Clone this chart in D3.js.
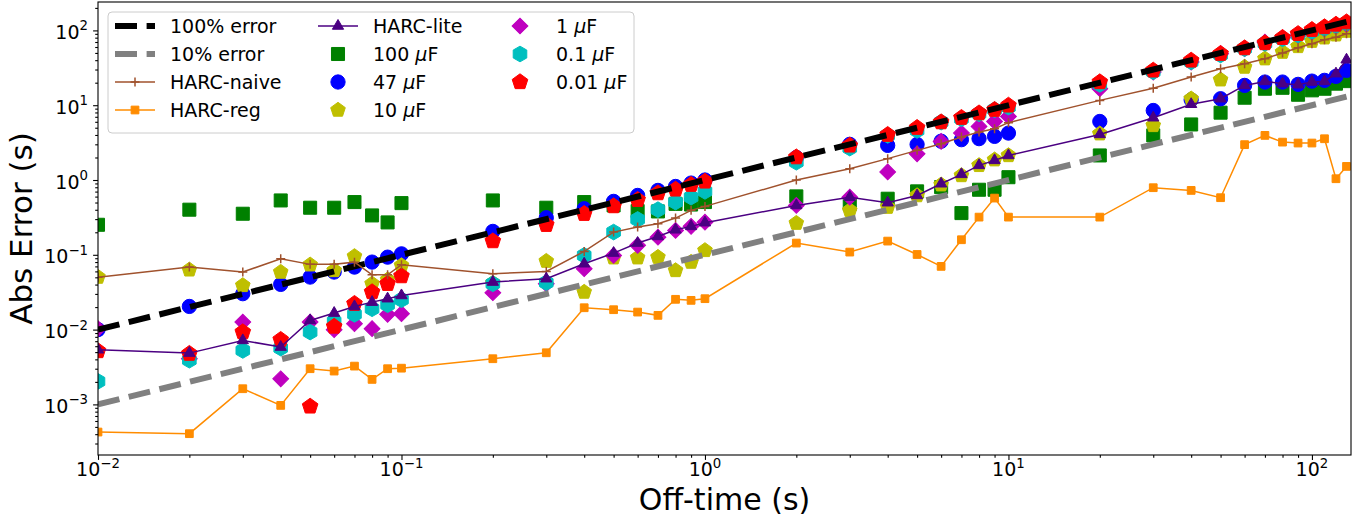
<!DOCTYPE html>
<html>
<head>
<meta charset="utf-8">
<script src="https://cdn.jsdelivr.net/npm/d3@7"></script>
<style>
  body { margin: 0; background: #fff; }
  text { font-family: "DejaVu Sans", sans-serif; fill: #000; }
</style>
</head>
<body>
<script>
// off-time values (s), shared by every series
var offTime = [0.01, 0.02, 0.03, 0.04, 0.05, 0.06, 0.07, 0.08, 0.09, 0.1,
  0.2, 0.3, 0.4, 0.5, 0.6, 0.7, 0.8, 0.9, 1,
  2, 3, 4, 5, 6, 7, 8, 9, 10,
  20, 30, 40, 50, 60, 70, 80, 90, 100,
  110, 120, 130];

// reference lines
var refX = [0.01, 130];
var err100 = [0.01, 130];
var err10 = [0.001, 13];

var harcNaive = [0.050, 0.0685, 0.0588, 0.0887, 0.0745, 0.0745, 0.0798, 0.054, 0.054, 0.0736,
  0.0558, 0.060, 0.111, 0.201, 0.235, 0.26, 0.31, 0.393, 0.444,
  1.0, 1.415, 1.93, 2.49, 3.05, 3.75, 4.37, 4.85, 5.84,
  11.6, 16.9, 23.8, 30.8, 35.9, 41.9, 49.8, 58.7, 66.4,
  75, 81, 90];
var harcReg = [4.27e-4, 4.06e-4, 1.62e-3, 9.7e-4, 3.0e-3, 2.79e-3, 3.25e-3, 2.16e-3, 3.0e-3, 3.05e-3,
  4.08e-3, 4.9e-3, 0.0196, 0.01845, 0.01715, 0.0155, 0.0254, 0.0246, 0.0259,
  0.1435, 0.1087, 0.1525, 0.101, 0.070, 0.159, 0.319, 0.573, 0.319,
  0.319, 0.789, 0.726, 0.58, 2.97, 3.95, 3.21, 3.12, 3.12,
  3.56, 1.04, 1.52];
var harcLite = [5.38e-3, 4.85e-3, 7.17e-3, 5.84e-3, 0.01327, 0.01663, 0.0204, 0.0233, 0.0259, 0.0286,
  0.0432, 0.0479, 0.0759, 0.1054, 0.1435, 0.176, 0.216, 0.24, 0.269,
  0.457, 0.59, 0.497, 0.622, 0.891, 1.19, 1.57, 1.83, 2.13,
  4.07, 6.8, 10.3, 12.2, 18.4, 20.8, 19.4, 18.8, 20.4,
  20.8, 26.4, 40.5];

var cap100 = [0.252, 0.401, 0.354, 0.533, 0.426, 0.426, 0.507, 0.336, 0.271, 0.491,
  0.533, 0.426, 0.507, 0.457, 0.384, 0.38, 0.48, 0.47, 0.507,
  0.604, 0.48, 0.562, 0.705, 0.804, 0.361, 0.741, 0.741, 1.09,
  2.13, 3.95, 5.53, 7.95, 12.6, 16.6, 17.1, 13.8, 15.8,
  16.6, 19.4, 21];
var cap47 = [0.0100, 0.0204, 0.0302, 0.0402, 0.0504, 0.0588, 0.0685, 0.0799, 0.093, 0.103,
  0.2056, 0.313, 0.413, 0.518, 0.622, 0.726, 0.82, 0.91, 1.0,
  2.0, 3.0, 2.9, 2.99, 3.3, 3.46, 3.57, 3.83, 4.24,
  6.06, 8.5, 11.8, 12.2, 18.4, 20.4, 20.4, 19.0, 21.0,
  21.5, 24.3, 29.2];
var cap10 = [0.0504, 0.063, 0.039, 0.0588, 0.0736, 0.0618, 0.0955, 0.041, 0.0465, 0.0721,
  0.042, 0.0824, 0.0318, 0.0914, 0.0914, 0.093, 0.0618, 0.08, 0.1146,
  0.265, 0.393, 0.434, 0.62, 0.865, 1.15, 1.57, 1.87, 2.13,
  4.16, 5.37, 12.2, 21.9, 32.4, 41.9, 51.3, 61.1, 71.9,
  79.8, 87.5, 98];
var cap1 = [0.0103, 4.08e-3, 0.0126, 2.2e-3, 0.0126, 0.00998, 0.012, 0.0103, 0.016, 0.0163,
  0.0311, 0.041, 0.0651, 0.098, 0.134, 0.172, 0.212, 0.24, 0.273,
  0.457, 0.59, 1.28, 2.24, 3.28, 4.24, 5.21, 6.06, 7.08,
  16.6, 27.7, 37.7, 48.8, 56.9, 69.8, 79.8, 85.8, 94.9,
  105, 113, 120];
var cap01 = [2.03e-3, 3.9e-3, 5.27e-3, 5.66e-3, 9.27e-3, 0.0129, 0.016, 0.019, 0.0215, 0.0251,
  0.041, 0.0424, 0.098, 0.2014, 0.297, 0.401, 0.507, 0.59, 0.705,
  1.73, 2.67, 3.95, 4.6, 5.94, 6.59, 7.69, 8.7, 9.44,
  19, 28, 38, 47, 57, 67, 77, 87, 97,
  106, 116, 125];
var cap001 = [5.17e-3, 4.77e-3, 9.27e-3, 7.33e-3, 9.4e-4, 0.011, 0.0222, 0.0318, 0.041, 0.0519,
  0.1525, 0.252, 0.354, 0.448, 0.544, 0.668, 0.748, 0.865, 0.957,
  2.02, 2.9, 4.03, 5.0, 5.94, 6.8, 7.83, 8.7, 9.93,
  20.4, 29.2, 39.7, 48.8, 58, 67.8, 79.8, 90, 102,
  111, 120, 129];

var xTicks = [0.01, 0.1, 1, 10, 100];
var xTickExp = ["\u22122", "\u22121", "0", "1", "2"];
var yTicks = [1e-3, 1e-2, 1e-1, 1, 10, 100];
var yTickExp = ["\u22123", "\u22122", "\u22121", "0", "1", "2"];

var W = 1369, H = 520;
var m = {left: 98, top: 2, right: 1351, bottom: 455};

var x = d3.scaleLog().domain([0.01, 134.5]).range([m.left, m.right]);
var y = d3.scaleLog().domain([2.106e-4, 239.8]).range([m.bottom, m.top]);

var svg = d3.select("body").append("svg").attr("width", W).attr("height", H);

svg.append("clipPath").attr("id", "plotclip").append("rect")
  .attr("x", m.left).attr("y", m.top)
  .attr("width", m.right - m.left).attr("height", m.bottom - m.top);

// polygon marker with n sides, pointing up
function polygon(n, rot) {
  return {
    draw: function(ctx, size) {
      var r = Math.sqrt(size / (n / 2 * Math.sin(2 * Math.PI / n)));
      for (var i = 0; i < n; i++) {
        var a = (rot || 0) + i * 2 * Math.PI / n;
        var px = r * Math.sin(a), py = -r * Math.cos(a);
        if (i) ctx.lineTo(px, py); else ctx.moveTo(px, py);
      }
      ctx.closePath();
    }
  };
}

var scatterSeries = [
  {name: "100 ", vals: cap100, color: "#008000", sym: d3.symbolSquare, size: 170, rot: 0},
  {name: "47 ", vals: cap47, color: "#0000ff", sym: d3.symbolCircle, size: 160, rot: 0},
  {name: "10 ", vals: cap10, color: "#bfbf00", sym: polygon(5), size: 140, rot: 0},
  {name: "1 ", vals: cap1, color: "#bf00bf", sym: d3.symbolSquare, size: 125, rot: 45},
  {name: "0.1 ", vals: cap01, color: "#00bfbf", sym: polygon(6), size: 160, rot: 0},
  {name: "0.01 ", vals: cap001, color: "#ff0000", sym: polygon(5), size: 160, rot: 0}
];

var plot = svg.append("g").attr("clip-path", "url(#plotclip)");

scatterSeries.forEach(function(s) {
  plot.append("g").selectAll("path")
    .data(s.vals)
    .enter()
    .append("path")
      .attr("d", d3.symbol().type(s.sym).size(s.size))
      .attr("transform", function(d, i) {
        return "translate(" + x(offTime[i]) + "," + y(d) + ") rotate(" + s.rot + ")";
      })
      .attr("fill", s.color)
      .attr("stroke", s.color)
      .attr("stroke-width", 1);
});

// reference lines
var refLine = d3.line().x(function(d, i) { return x(refX[i]); }).y(function(d) { return y(d); });
plot.append("path").attr("d", refLine(err100)).attr("fill", "none")
  .attr("stroke", "#000").attr("stroke-width", 6).attr("stroke-dasharray", "22,9.6");
plot.append("path").attr("d", refLine(err10)).attr("fill", "none")
  .attr("stroke", "#808080").attr("stroke-width", 6).attr("stroke-dasharray", "22,9.6");

var plusPath = "M-4.5,0H4.5M0,-4.5V4.5";
var lineSeries = [
  {name: "HARC-naive", vals: harcNaive, color: "#a0522d", marker: "plus"},
  {name: "HARC-reg", vals: harcReg, color: "#ff8c00", marker: "square"},
  {name: "HARC-lite", vals: harcLite, color: "#4b0082", marker: "triangle"}
];

function markerPath(kind) {
  if (kind === "plus") return plusPath;
  if (kind === "square") return d3.symbol().type(d3.symbolSquare).size(60)();
  return d3.symbol().type(d3.symbolTriangle).size(55)();
}

var dataLine = d3.line().x(function(d, i) { return x(offTime[i]); }).y(function(d) { return y(d); });
lineSeries.forEach(function(s) {
  plot.append("path").attr("d", dataLine(s.vals)).attr("fill", "none")
    .attr("stroke", s.color).attr("stroke-width", 1.5);
  plot.append("g").selectAll("path")
    .data(s.vals)
    .enter()
    .append("path")
      .attr("d", markerPath(s.marker))
      .attr("transform", function(d, i) { return "translate(" + x(offTime[i]) + "," + y(d) + ")"; })
      .attr("fill", s.marker === "plus" ? "none" : s.color)
      .attr("stroke", s.color)
      .attr("stroke-width", s.marker === "plus" ? 1.5 : 1);
});

// axes ticks
function isMajor(v) { return Math.abs(Math.log10(v) - Math.round(Math.log10(v))) < 1e-6; }

function noDomain(g) { g.select(".domain").remove(); }

svg.append("g").attr("transform", "translate(0," + m.bottom + ")")
  .call(d3.axisBottom(x).tickValues(x.ticks().filter(function(v) { return !isMajor(v); })).tickSize(2.8).tickFormat(""))
  .call(noDomain);
svg.append("g").attr("transform", "translate(0," + m.bottom + ")")
  .call(d3.axisBottom(x).tickValues(xTicks).tickSize(4.9).tickFormat(""))
  .call(noDomain);
svg.append("g").attr("transform", "translate(" + m.left + ",0)")
  .call(d3.axisLeft(y).tickValues(y.ticks().filter(function(v) { return !isMajor(v); })).tickSize(2.8).tickFormat(""))
  .call(noDomain);
svg.append("g").attr("transform", "translate(" + m.left + ",0)")
  .call(d3.axisLeft(y).tickValues(yTicks).tickSize(4.9).tickFormat(""))
  .call(noDomain);
svg.selectAll(".tick line").attr("stroke", "#000").attr("stroke-width", 1.1);

// frame
svg.append("rect").attr("x", m.left).attr("y", m.top)
  .attr("width", m.right - m.left).attr("height", m.bottom - m.top)
  .attr("fill", "none").attr("stroke", "#000").attr("stroke-width", 1.1);

// tick labels
svg.selectAll(".xlab").data(xTicks).enter().append("text")
  .attr("class", "xlab")
  .attr("x", function(d) { return x(d); })
  .attr("y", 476)
  .attr("text-anchor", "middle")
  .attr("font-size", 19)
  .each(function(d, i) {
    var t = d3.select(this);
    t.append("tspan").text("10");
    t.append("tspan").attr("dy", -8.5).attr("font-size", 13.3).text(xTickExp[i]);
  });

svg.selectAll(".ylab").data(yTicks).enter().append("text")
  .attr("class", "ylab")
  .attr("x", 88)
  .attr("y", function(d) { return y(d) + 8.5; })
  .attr("text-anchor", "end")
  .attr("font-size", 19)
  .each(function(d, i) {
    var t = d3.select(this);
    t.append("tspan").text("10");
    t.append("tspan").attr("dy", -8.5).attr("font-size", 13.3).text(yTickExp[i]);
  });

// axis titles
svg.append("text").attr("x", (m.left + m.right) / 2).attr("y", 510)
  .attr("text-anchor", "middle").attr("font-size", 30).text("Off-time (s)");
svg.append("text").attr("transform", "translate(32," + (m.top + m.bottom) / 2 + ") rotate(-90)")
  .attr("text-anchor", "middle").attr("font-size", 31).text("Abs Error (s)");

// legend
var lg = svg.append("g");
lg.append("rect").attr("x", 108).attr("y", 12).attr("width", 526).attr("height", 121)
  .attr("rx", 4).attr("fill", "#fff").attr("fill-opacity", 0.8)
  .attr("stroke", "#cccccc").attr("stroke-width", 1);

var rowY = [26, 54, 82, 110];
var refEntries = [
  {name: "100% error", color: "#000"},
  {name: "10% error", color: "#808080"}
];
refEntries.forEach(function(e, i) {
  lg.append("line").attr("x1", 115).attr("x2", 155).attr("y1", rowY[i]).attr("y2", rowY[i])
    .attr("stroke", e.color).attr("stroke-width", 6).attr("stroke-dasharray", "22,9.6");
  lg.append("text").attr("x", 170).attr("y", rowY[i] + 7).attr("font-size", 19).text(e.name);
});

var lineSlots = [{x: 115, tx: 170, row: 2}, {x: 115, tx: 170, row: 3}, {x: 318, tx: 373, row: 0}];
lineSeries.forEach(function(s, i) {
  var sl = lineSlots[i], yy = rowY[sl.row];
  lg.append("line").attr("x1", sl.x).attr("x2", sl.x + 40).attr("y1", yy).attr("y2", yy)
    .attr("stroke", s.color).attr("stroke-width", 1.5);
  lg.append("path").attr("d", markerPath(s.marker))
    .attr("transform", "translate(" + (sl.x + 20) + "," + yy + ")")
    .attr("fill", s.marker === "plus" ? "none" : s.color)
    .attr("stroke", s.color).attr("stroke-width", s.marker === "plus" ? 1.5 : 1);
  lg.append("text").attr("x", sl.tx).attr("y", yy + 7).attr("font-size", 19).text(s.name);
});

var scatSlots = [
  {x: 338, tx: 373, row: 1}, {x: 338, tx: 373, row: 2}, {x: 338, tx: 373, row: 3},
  {x: 520, tx: 556, row: 0}, {x: 520, tx: 556, row: 1}, {x: 520, tx: 556, row: 2}
];
scatterSeries.forEach(function(s, i) {
  var sl = scatSlots[i], yy = rowY[sl.row];
  lg.append("path").attr("d", d3.symbol().type(s.sym).size(s.size))
    .attr("transform", "translate(" + sl.x + "," + yy + ") rotate(" + s.rot + ")")
    .attr("fill", s.color).attr("stroke", s.color).attr("stroke-width", 1);
  var t = lg.append("text").attr("x", sl.tx).attr("y", yy + 7).attr("font-size", 19);
  t.append("tspan").text(s.name);
  t.append("tspan").attr("font-style", "italic").text("\u03bc");
  t.append("tspan").text("F");
});
</script>
</body>
</html>
